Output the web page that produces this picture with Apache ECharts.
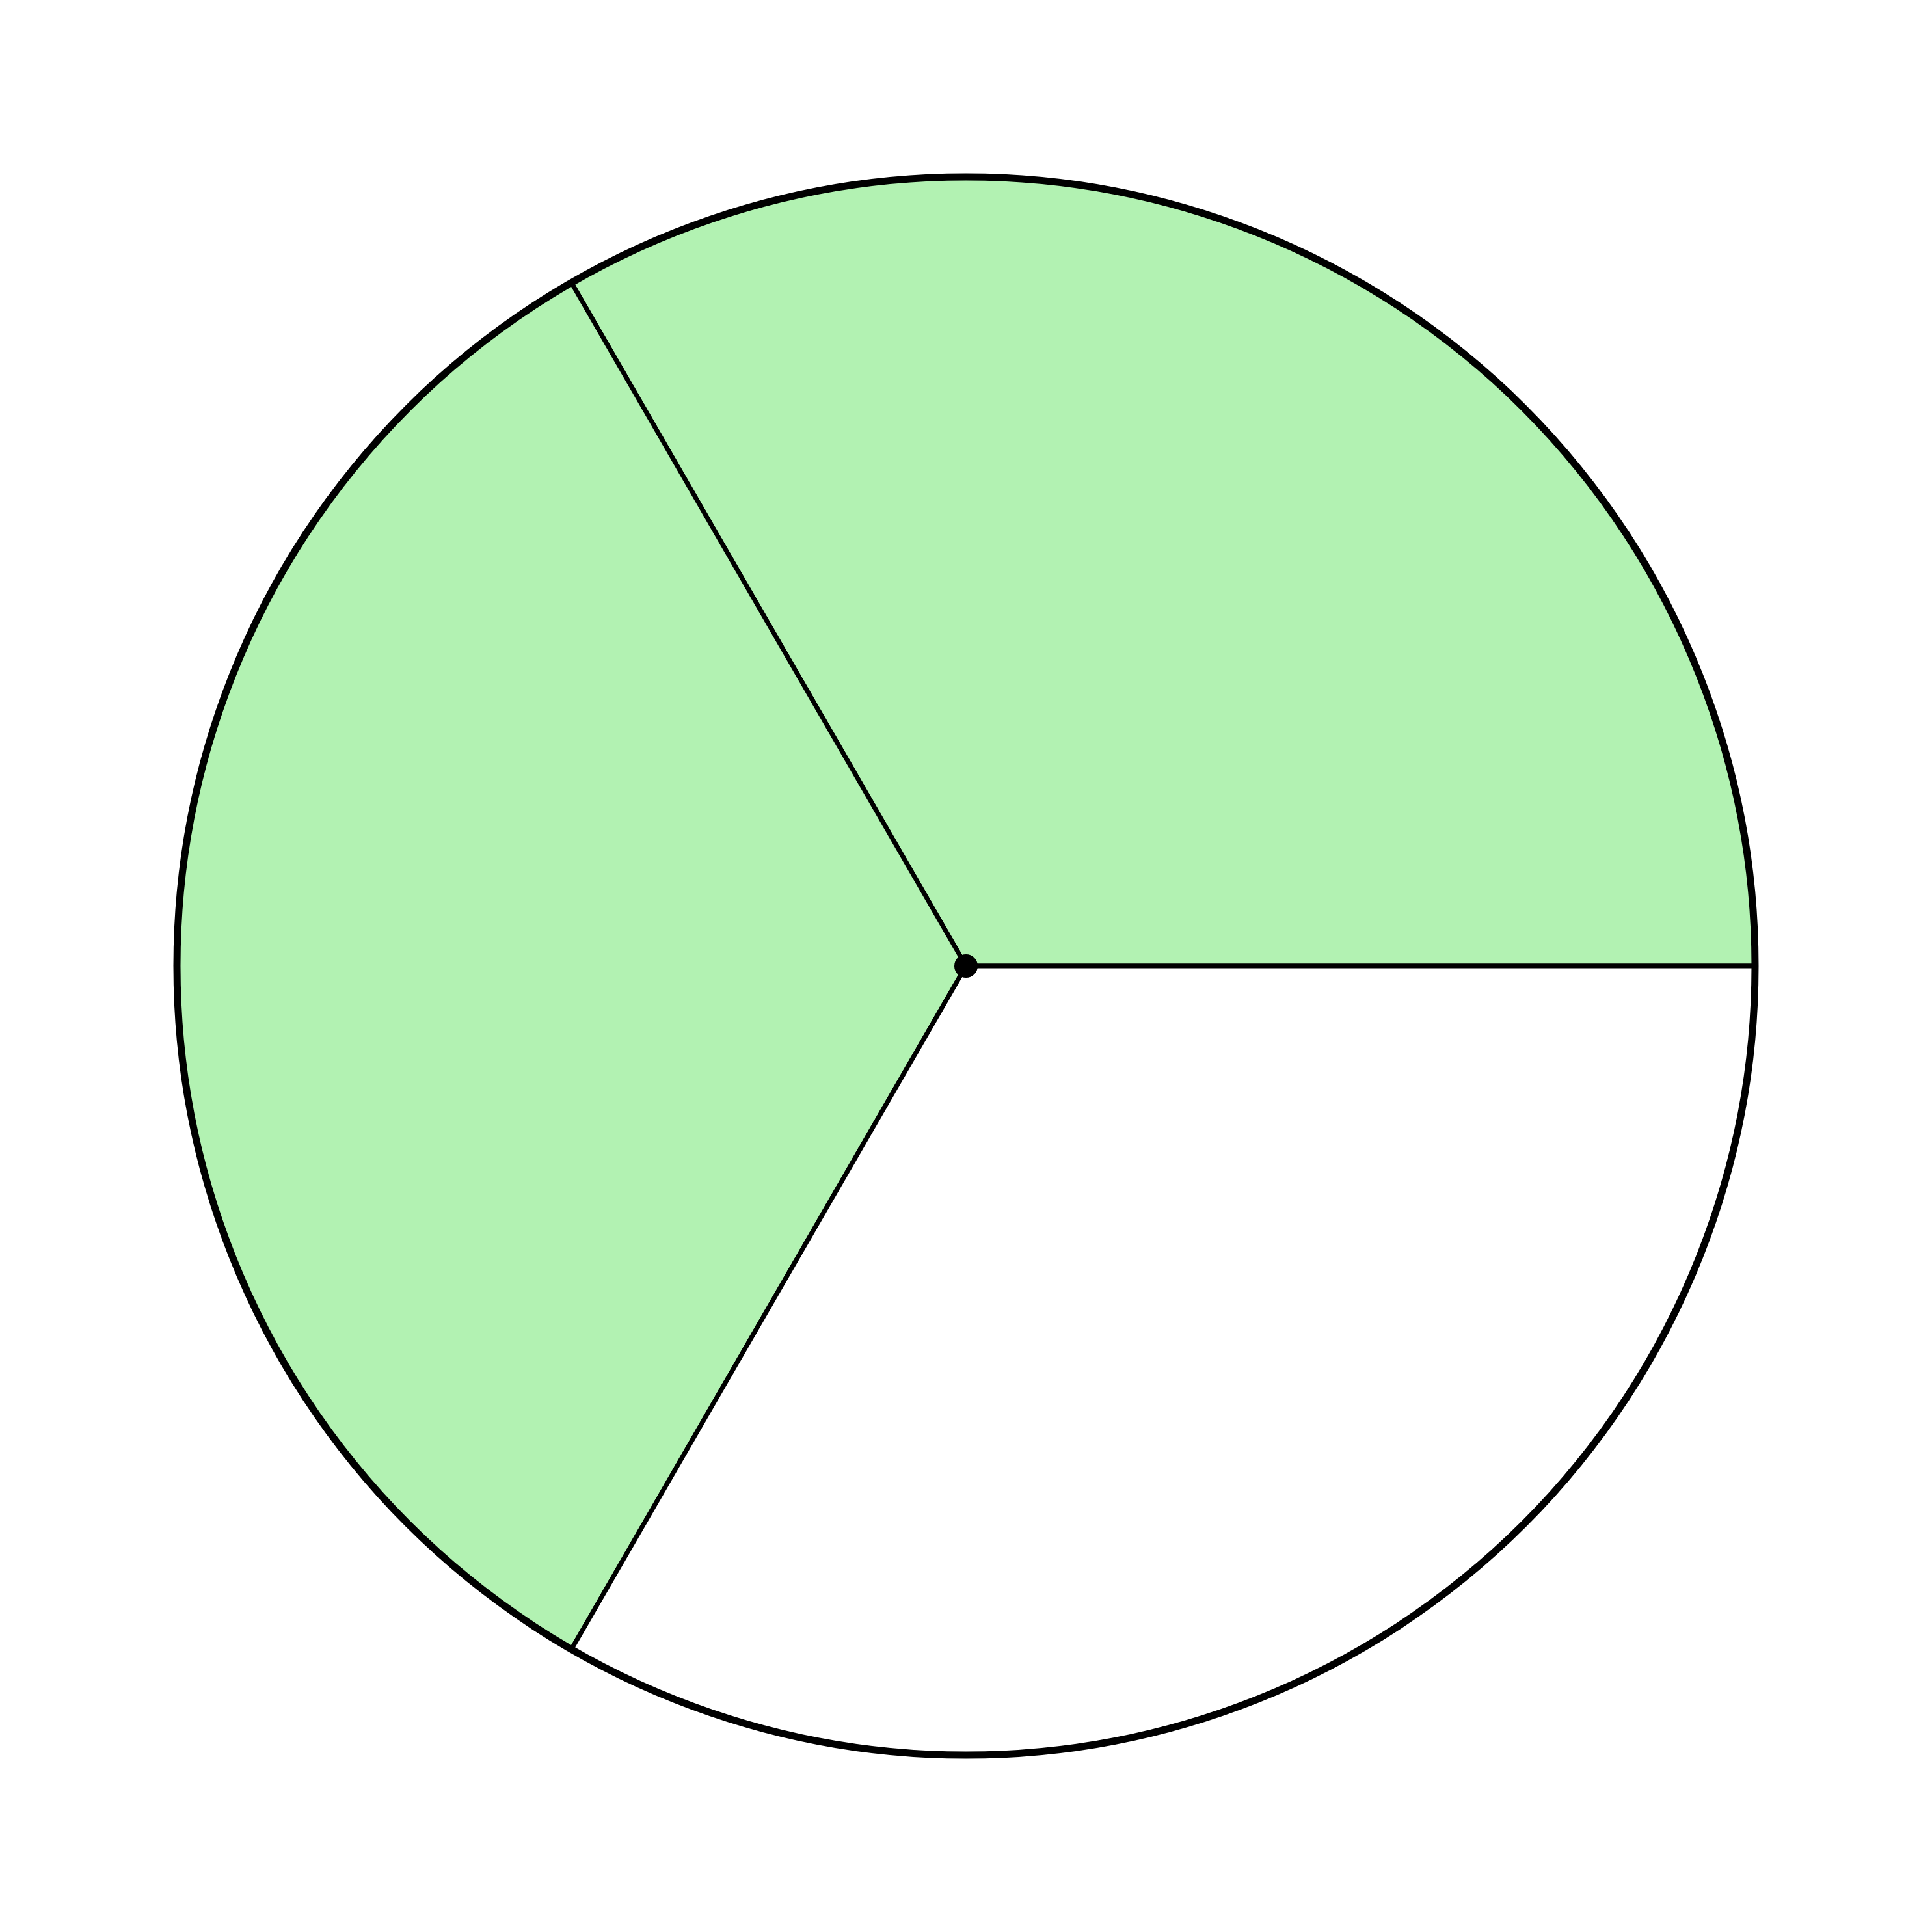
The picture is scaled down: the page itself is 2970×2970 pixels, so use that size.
<!DOCTYPE html>
<html>
<head>
<meta charset="utf-8">
<script src="https://cdn.jsdelivr.net/npm/echarts@6/dist/echarts.min.js"></script>
<style>html,body{margin:0;padding:0;background:#fff}#c{width:2970px;height:2970px}</style>
</head>
<body>
<div id="c"></div>
<script>
const categories = ['part 1', 'part 2', 'part 3'];
const values = [1, 1, 1];
const shaded = [true, true, false];

const chart = echarts.init(document.getElementById('c'), null, {renderer: 'canvas'});
chart.setOption({
  backgroundColor: '#ffffff',
  animation: false,
  series: [
    {
      type: 'pie',
      center: [1485, 1485],
      radius: [0, 1212],
      startAngle: 0,
      clockwise: false,
      silent: true,
      label: {show: false},
      labelLine: {show: false},
      data: categories.map((n, i) => ({
        name: n,
        value: values[i],
        itemStyle: {color: shaded[i] ? '#b2f2b2' : '#ffffff', borderColor: '#000000', borderWidth: 7}
      }))
    },
    {
      type: 'pie',
      center: [1485, 1485],
      radius: [1213, 1213],
      silent: true,
      label: {show: false},
      labelLine: {show: false},
      data: [{value: 1, itemStyle: {color: 'rgba(0,0,0,0)', borderColor: '#000000', borderWidth: 11}}]
    },
    {
      type: 'pie',
      center: [1485, 1485],
      radius: [0, 18],
      silent: true,
      label: {show: false},
      labelLine: {show: false},
      data: [{value: 1, itemStyle: {color: '#000000', borderWidth: 0}}]
    }
  ]
});
</script>
</body>
</html>
